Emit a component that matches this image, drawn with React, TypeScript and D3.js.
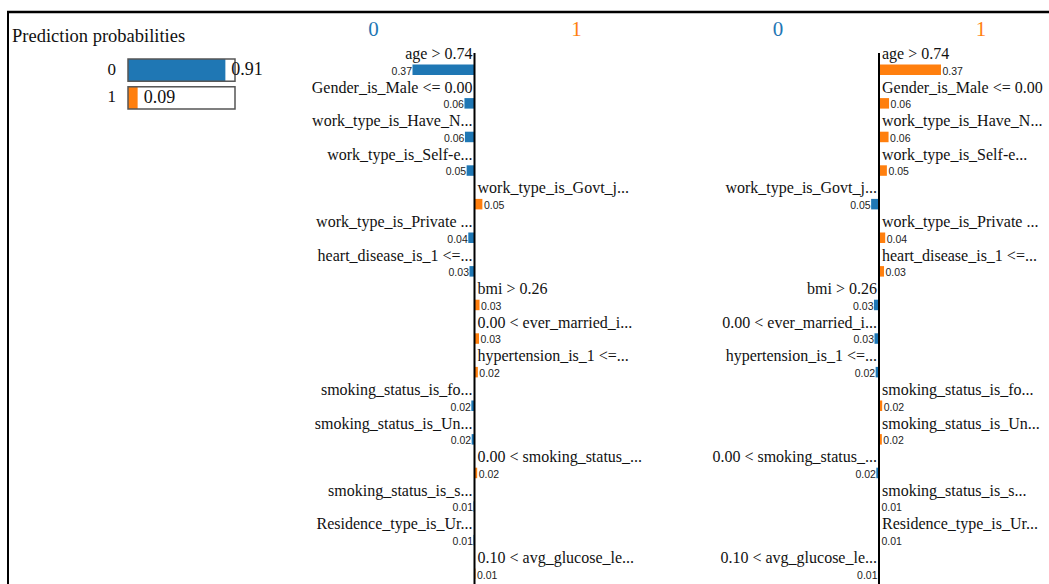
import React from 'react';
import * as d3 from 'd3';

const classNames = ['0', '1'];
const probabilities = [0.91, 0.09];
const featureLabels = [
  'age > 0.74',
  'Gender_is_Male <= 0.00',
  'work_type_is_Have_N...',
  'work_type_is_Self-e...',
  'work_type_is_Govt_j...',
  'work_type_is_Private ...',
  'heart_disease_is_1 <=...',
  'bmi > 0.26',
  '0.00 < ever_married_i...',
  'hypertension_is_1 <=...',
  'smoking_status_is_fo...',
  'smoking_status_is_Un...',
  '0.00 < smoking_status_...',
  'smoking_status_is_s...',
  'Residence_type_is_Ur...',
  '0.10 < avg_glucose_le...',
];
// signed weights of the first chart (negative = towards class 0, drawn on the left)
const firstChartWeights = [
  -0.37, -0.06, -0.057, -0.047, 0.047, -0.037, -0.03, 0.03, 0.027, 0.02,
  -0.019, -0.017, 0.016, -0.006, -0.006, 0.006,
];
// the second chart is the mirror image of the first
const secondChartWeights = firstChartWeights.map((w) => -w);

const BLUE = '#1f77b4';
const ORANGE = '#ff7f0e';
const SERIF = '"Liberation Serif", "Times New Roman", serif';
const SANS = '"Liberation Sans", Arial, sans-serif';

const fmt = d3.format('.2f');

function Explanation({ axisX, weights }: { axisX: number; weights: number[] }) {
  const maxW = d3.max(weights, (w) => Math.abs(w)) as number;
  const x = d3.scaleLinear().domain([-maxW, maxW]).range([axisX - 62, axisX + 62]);
  const y = d3
    .scaleLinear()
    .domain([0, featureLabels.length - 1])
    .range([64.5, 64.5 + 33.6 * (featureLabels.length - 1)]);
  const barH = 10.5;
  return (
    <g>
      <text x={axisX - 101} y={36} textAnchor="middle" fill={BLUE} style={{ font: `21px ${SERIF}` }}>
        {classNames[0]}
      </text>
      <text x={axisX + 102} y={36} textAnchor="middle" fill={ORANGE} style={{ font: `21px ${SERIF}` }}>
        {classNames[1]}
      </text>
      {weights.map((w, i) => {
        const x0 = x(0);
        const x1 = x(w);
        const left = w < 0;
        const yy = y(i);
        return (
          <g key={i}>
            <rect
              x={Math.min(x0, x1)}
              y={yy}
              width={Math.abs(x1 - x0)}
              height={barH}
              fill={left ? BLUE : ORANGE}
            />
            <text
              x={left ? axisX - 2 : axisX + 3}
              y={yy - 5.5}
              textAnchor={left ? 'end' : 'start'}
              fill="#111"
              style={{ font: `16px ${SERIF}` }}
            >
              {featureLabels[i]}
            </text>
            <text
              x={left ? x1 - 0.5 : x1 + 1.5}
              y={yy + 10}
              textAnchor={left ? 'end' : 'start'}
              fill="#222"
              style={{ font: `10.5px ${SANS}` }}
            >
              {fmt(Math.abs(w))}
            </text>
          </g>
        );
      })}
      <line x1={axisX} x2={axisX} y1={53} y2={584} stroke="#000" strokeWidth={2} />
    </g>
  );
}

function PredictProba() {
  const x = d3.scaleLinear().domain([0, 1]).range([128, 235]);
  const y = d3.scaleBand().domain(classNames).range([59, 109]).paddingInner(0.2);
  const colors = [BLUE, ORANGE];
  return (
    <g>
      <text x={12} y={42} fill="#111" style={{ font: `18.5px ${SERIF}` }}>
        Prediction probabilities
      </text>
      {classNames.map((c, i) => {
        const yy = y(c) as number;
        const h = y.bandwidth();
        return (
          <g key={c}>
            <text x={116} y={yy + 15.5} textAnchor="end" fill="#111" style={{ font: `17px ${SERIF}` }}>
              {c}
            </text>
            <rect x={x(0)} y={yy} width={x(1) - x(0)} height={h} fill="#fff" />
            <rect x={x(0)} y={yy} width={x(probabilities[i]) - x(0)} height={h} fill={colors[i]} />
            <rect x={x(0)} y={yy} width={x(1) - x(0)} height={h} fill="none" stroke="#555" strokeWidth={1.5} />
            <text
              x={x(probabilities[i]) + 6}
              y={yy + 16}
              fill="#111"
              style={{ font: `18px ${SERIF}` }}
            >
              {fmt(probabilities[i])}
            </text>
          </g>
        );
      })}
    </g>
  );
}

export default function App() {
  return (
    <svg
      width={1049}
      height={584}
      style={{ position: 'absolute', left: 0, top: 0, background: '#fff' }}
    >
      <rect x={0} y={0} width={1049} height={584} fill="#fff" />
      <line x1={7} x2={1049} y1={12} y2={12} stroke="#000" strokeWidth={2.5} />
      <line x1={8} x2={8} y1={11} y2={584} stroke="#000" strokeWidth={2} />
      <PredictProba />
      <Explanation axisX={474.5} weights={firstChartWeights} />
      <Explanation axisX={879} weights={secondChartWeights} />
    </svg>
  );
}
